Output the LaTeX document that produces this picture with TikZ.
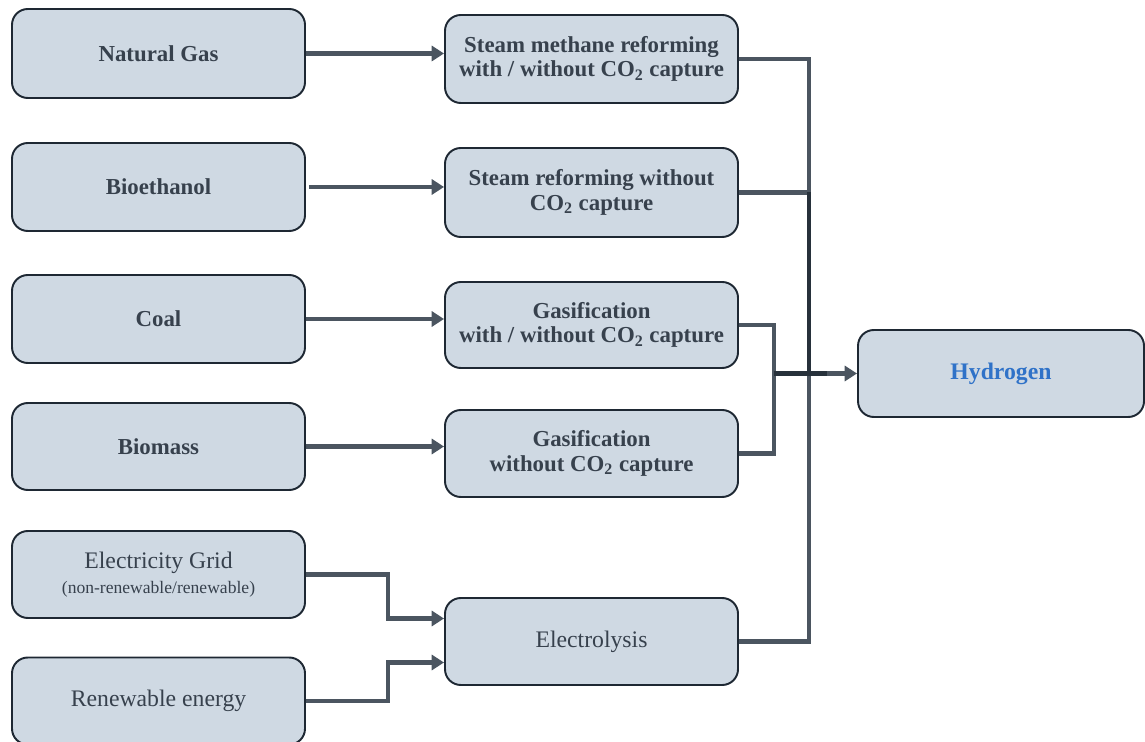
\documentclass[tikz,border=0pt]{standalone}
\usepackage{fontspec}
\setmainfont{Liberation Serif}
\usetikzlibrary{arrows.meta,calc}
\definecolor{boxfill}{HTML}{CFD9E3}
\definecolor{boxdraw}{HTML}{1E2833}
\definecolor{txt}{HTML}{37414D}
\definecolor{lnc}{HTML}{4B5560}
\definecolor{lndark}{HTML}{27313B}
\definecolor{hblue}{HTML}{2F72C8}
\tikzset{
  x=0.02cm, y=-0.02cm,
  boxnode/.style={draw=boxdraw, line width=1.1pt, fill=boxfill, rounded corners=9pt,
    minimum width=293*0.02cm, minimum height=88*0.02cm, inner sep=2pt,
    align=center, text=txt, font=\fontsize{13}{14}\selectfont\bfseries},
  regnode/.style={boxnode, font=\fontsize{13.5}{15}\selectfont},
  ln/.style={draw=lnc, line width=2.6pt},
  arr/.style={ln, -{Triangle[length=7pt,width=8.5pt]}},
  dk/.style={draw=lndark, line width=2.6pt}
}
\begin{document}
\begin{tikzpicture}
\useasboundingbox (0,0) rectangle (1145,742);
% left column
\node[boxnode, minimum height=89*0.02cm] (ng) at (158.5,53.5) {Natural Gas};
\node[boxnode] (bio) at (158.5,187) {Bioethanol};
\node[boxnode] (coal) at (158.5,319) {Coal};
\node[boxnode, minimum height=87*0.02cm] (bm) at (158.5,446.5) {Biomass};
\node[regnode, minimum height=87*0.02cm] (elec) at (158.5,574.5) {Electricity Grid\\[-1pt]{\fontsize{10}{11}\selectfont (non-renewable/renewable)}};
\node[regnode, minimum height=87*0.02cm] (ren) at (158.5,701) {Renewable energy};
% middle column
\node[boxnode] (smr) at (591.5,59) {Steam methane reforming\\with / without CO\textsubscript{2} capture};
\node[boxnode, minimum height=89*0.02cm] (sr) at (591.5,192.5) {Steam reforming without\\CO\textsubscript{2} capture};
\node[boxnode, minimum height=86*0.02cm] (g1) at (591.5,325) {Gasification\\with / without CO\textsubscript{2} capture};
\node[boxnode, minimum height=87*0.02cm] (g2) at (591.5,453.5) {Gasification\\without CO\textsubscript{2} capture};
\node[regnode, minimum height=87*0.02cm] (el) at (591.5,641.5) {Electrolysis};
% output
\node[boxnode, minimum width=286*0.02cm, minimum height=87*0.02cm, text=hblue, font=\fontsize{13.5}{15}\selectfont\bfseries] (h2) at (1001,373.5) {Hydrogen};
% bus coordinates
\coordinate (busR) at (809,373.5);
\coordinate (busL) at (774,373.5);
% feed arrows
\draw[arr] (ng.east) -- (ng.east -| smr.west);
\draw[arr] ([xshift=3*0.02cm]bio.east) -- (bio.east -| sr.west);
\draw[arr] (coal.east) -- (coal.east -| g1.west);
\draw[arr] (bm.east) -- (bm.east -| g2.west);
\draw[arr] (elec.east) -- ++(82,0) |- ($(el.west)+(0,-23)$);
\draw[arr] (ren.east) -- ++(82,0) |- ($(el.west)+(0,21)$);
% outputs to hydrogen
\draw[ln] (smr.east) -| (busR);
\draw[ln] (sr.east) -| (busR);
\draw[ln] (el.east) -| (busR);
\draw[ln] (g1.east) -| (busL);
\draw[ln] (g2.east) -| (busL);
\draw[arr] (busL) -- (h2.west);
\draw[dk] (sr.east -| busR) -- (busR);
\draw[dk] (busL) -- ++(53,0);
\end{tikzpicture}
\end{document}
